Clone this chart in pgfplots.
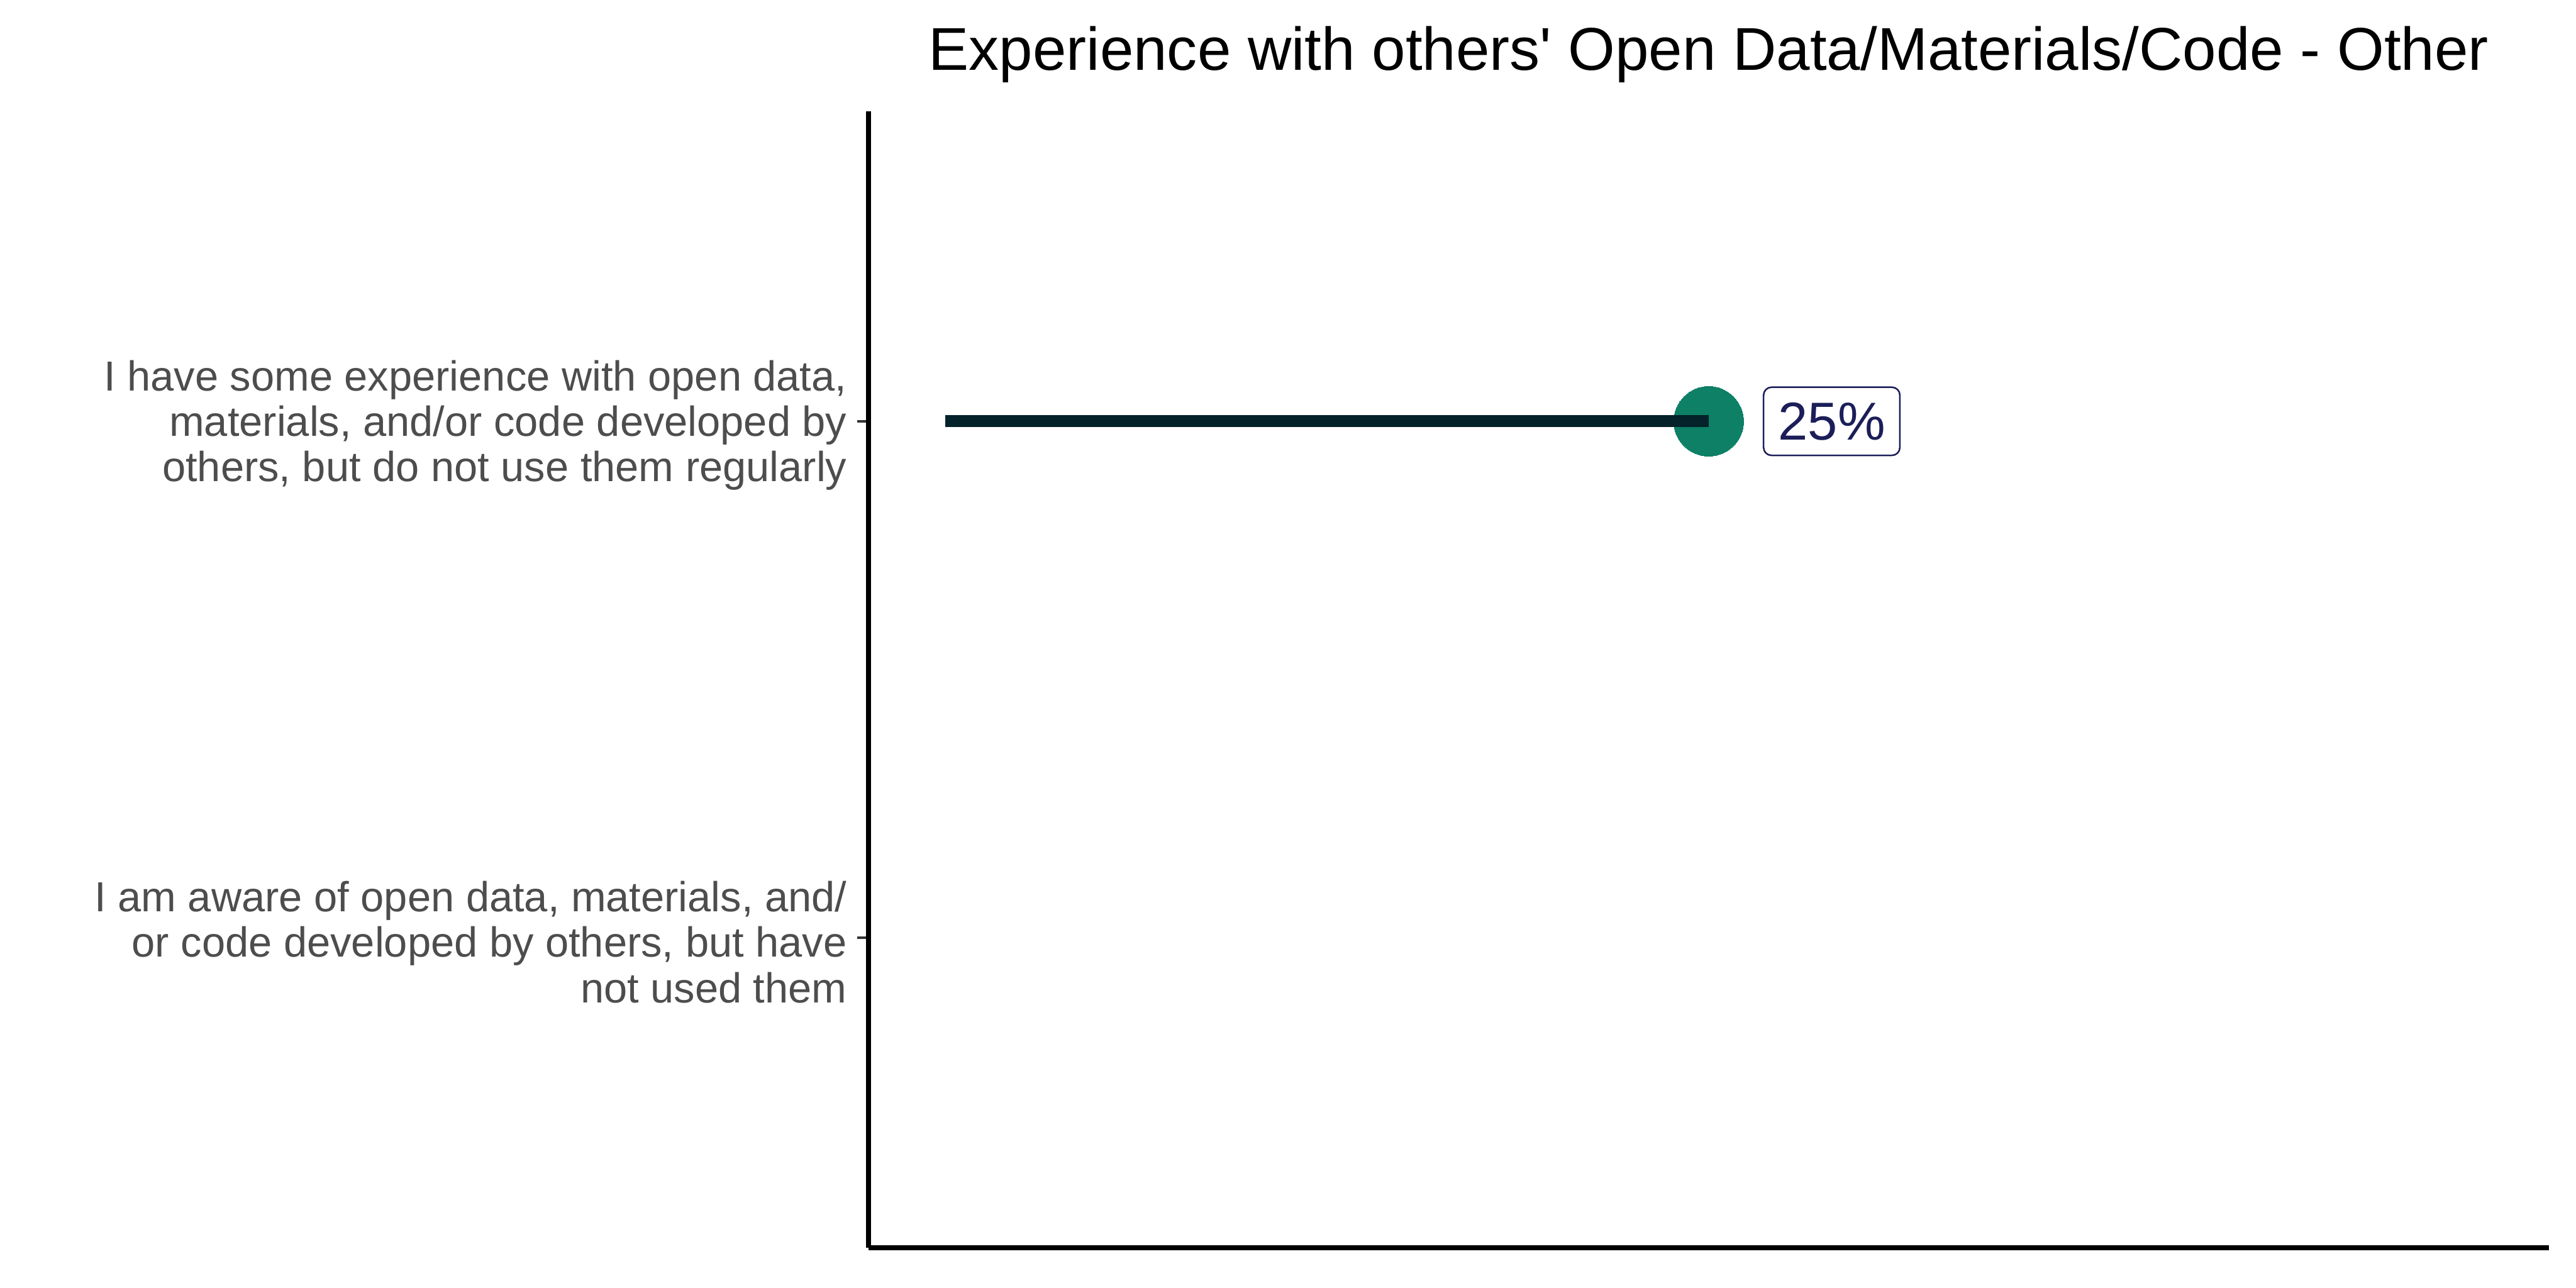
\documentclass[border=0pt]{standalone}
\usepackage{fontspec}
\setmainfont{Liberation Sans}
\usepackage{pgfplots}
\pgfplotsset{compat=1.18}
\definecolor{segcol}{HTML}{03222A}
\definecolor{dotcol}{HTML}{0D8066}
\definecolor{navy}{HTML}{1B1E58}
\definecolor{ticktext}{HTML}{4D4D4D}
\definecolor{tickcol}{HTML}{333333}
\begin{document}
\begin{tikzpicture}
\path[use as bounding box] (0,0) rectangle (1134pt,567pt);
\begin{axis}[
  at={(382.4pt,17.6pt)}, anchor=south west,
  scale only axis, width=739.6pt, height=500.4pt,
  xmin=-2.5, xmax=52.5, ymin=0.4, ymax=2.6,
  axis x line*=bottom, axis y line*=left,
  axis line style={black, line width=2.2pt},
  xtick=\empty,
  ytick={1,2},
  yticklabels={{I am aware of open data, materials, and/\\or code developed by others, but have\\not used them},{I have some experience with open data,\\materials, and/or code developed by\\others, but do not use them regularly}},
  yticklabel style={align=right, font=\fontsize{18.5}{20}\selectfont, text=ticktext, inner sep=0pt, xshift=-4.4pt, yshift=-1.8pt},
  tick align=outside, major tick length=5pt,
  ytick style={draw=tickcol, line width=1.1pt},
  title={Experience with others\textquotesingle\ Open Data/Materials/Code - Other},
  title style={at={(0.5,1)}, anchor=base, yshift=12pt, font=\fontsize{26.6}{30}\selectfont, inner sep=0pt},
  clip=false, clip marker paths=true,
]
\addplot[only marks, mark=*, mark size=15.35pt, mark options={draw=dotcol, line width=0pt, fill=dotcol}] coordinates {(25,2)};
\addplot[segcol, line width=5.3pt, line cap=butt, mark=none] coordinates {(0,2) (25,2)};
\addplot[draw=none, mark=none, point meta=x, nodes near coords={\pgfmathprintnumber[assume math mode=true]{\pgfplotspointmeta}\%}, nodes near coords style={anchor=west, xshift=23.8pt, draw=navy, text=navy, fill=white, rounded corners=3.5pt, line width=0.7pt, font=\fontsize{23.5}{26}\selectfont, minimum width=60pt, minimum height=30pt, inner sep=0pt}] coordinates {(25,2)};
\end{axis}
\end{tikzpicture}
\end{document}
